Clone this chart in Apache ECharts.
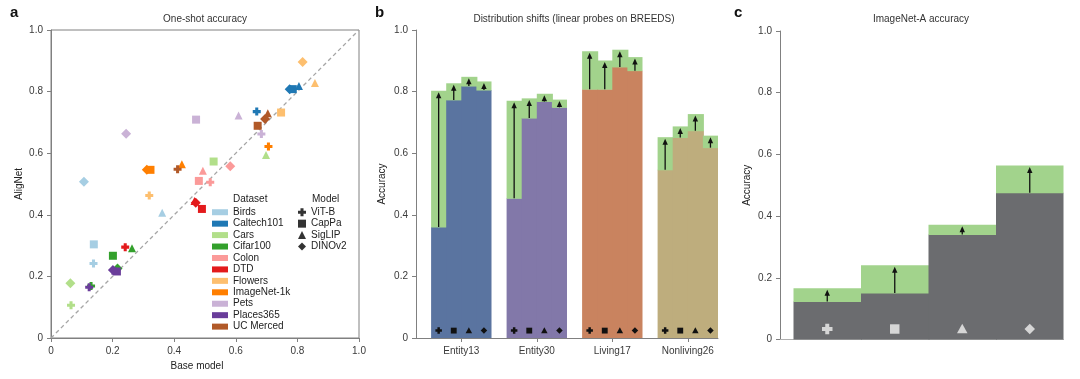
<!DOCTYPE html>
<html>
<head>
<meta charset="utf-8">
<script src="https://cdn.jsdelivr.net/npm/echarts@6/dist/echarts.min.js"></script>
<style>
html,body{margin:0;padding:0;background:#fff;}
#chart{width:1080px;height:379px;}
</style>
</head>
<body>
<div id="chart"></div>
<script>
// ---------- DATA ----------
const models = ['ViT-B', 'CapPa', 'SigLIP', 'DINOv2'];
const datasets = ['Birds', 'Caltech101', 'Cars', 'Cifar100', 'Colon', 'DTD', 'Flowers', 'ImageNet-1k', 'Pets', 'Places365', 'UC Merced'];
// one-shot accuracy, per dataset, model order: ViT-B, CapPa, SigLIP, DINOv2
const oneShotBase = [
  [0.138, 0.139, 0.361, 0.107],
  [0.668, 0.785, 0.805, 0.775],
  [0.065, 0.528, 0.698, 0.063],
  [0.130, 0.201, 0.263, 0.216],
  [0.517, 0.480, 0.493, 0.582],
  [0.241, 0.490, 0.466, 0.470],
  [0.319, 0.747, 0.857, 0.817],
  [0.706, 0.323, 0.425, 0.311],
  [0.683, 0.471, 0.609, 0.244],
  [0.124, 0.214, 0.208, 0.201],
  [0.411, 0.671, 0.704, 0.695]
];
const oneShotAligned = [
  [0.242, 0.304, 0.407, 0.507],
  [0.735, 0.808, 0.818, 0.808],
  [0.106, 0.573, 0.594, 0.178],
  [0.169, 0.267, 0.291, 0.226],
  [0.506, 0.510, 0.543, 0.558],
  [0.295, 0.419, 0.445, 0.439],
  [0.463, 0.732, 0.828, 0.896],
  [0.622, 0.546, 0.564, 0.546],
  [0.662, 0.709, 0.722, 0.663],
  [0.165, 0.216, 0.219, 0.221],
  [0.548, 0.689, 0.730, 0.711]
];
const identityLine = [[0, 0], [1, 1]];

const shiftCategories = ['Entity13', 'Entity30', 'Living17', 'Nonliving26'];
const shiftBase = [
  [0.360, 0.773, 0.818, 0.805],
  [0.454, 0.714, 0.768, 0.749],
  [0.808, 0.808, 0.880, 0.868],
  [0.546, 0.651, 0.673, 0.618]
];
const shiftAligned = [
  [0.803, 0.827, 0.848, 0.833],
  [0.770, 0.778, 0.793, 0.774],
  [0.931, 0.901, 0.936, 0.912],
  [0.652, 0.687, 0.727, 0.657]
];

const imagenetABase = [0.123, 0.151, 0.340, 0.476];
const imagenetAAligned = [0.166, 0.241, 0.372, 0.564];

// ---------- STYLE ----------
const FONT = "'Liberation Sans', Arial, Helvetica, sans-serif";
const AXIS_COLOR = '#808080';
const LABEL_COLOR = '#3a3a3a';
const datasetColors = ['#a6cee3', '#1f78b4', '#b2df8a', '#33a02c', '#fb9a99', '#e31a1c', '#fdbf6f', '#ff7f00', '#cab2d6', '#6a3d9a', '#b15928'];
const crossPath = 'path://M3.1,0H6.9V3.1H10V6.9H6.9V10H3.1V6.9H0V3.1H3.1Z';
const modelSymbols = [crossPath, 'rect', 'triangle', 'diamond'];
const modelSizes = [8, 8, 8, 10];
const shiftColors = ['#5a74a0', '#8278a9', '#c9835f', '#bead7d'];
const GREEN = '#a2d38c';
const GRAY_BAR = '#6b6c6f';

function tickFmt(v) { return v === 0 ? '0' : v.toFixed(1); }

function markerShape(type, cx, cy, s, color) {
  const h = s / 2;
  if (type === 0) {
    const t = s * 0.19;
    return { type: 'polygon', shape: { points: [
      [cx - t, cy - h], [cx + t, cy - h], [cx + t, cy - t], [cx + h, cy - t], [cx + h, cy + t], [cx + t, cy + t],
      [cx + t, cy + h], [cx - t, cy + h], [cx - t, cy + t], [cx - h, cy + t], [cx - h, cy - t], [cx - t, cy - t]] },
      style: { fill: color } };
  }
  if (type === 1) {
    return { type: 'rect', shape: { x: cx - h * 0.9, y: cy - h * 0.9, width: s * 0.9, height: s * 0.9 }, style: { fill: color } };
  }
  if (type === 2) {
    return { type: 'polygon', shape: { points: [[cx, cy - h], [cx + h, cy + h * 0.8], [cx - h, cy + h * 0.8]] }, style: { fill: color } };
  }
  return { type: 'polygon', shape: { points: [[cx, cy - h], [cx + h, cy], [cx, cy + h], [cx - h, cy]] }, style: { fill: color } };
}

function arrowShapes(x, yBase, yTop) {
  const tip = yTop + 1.5;
  const headLen = 6, headHalf = 2.7;
  const out = [];
  if (yBase - tip > headLen) {
    out.push({ type: 'line', shape: { x1: x, y1: yBase, x2: x, y2: tip + headLen - 1 }, style: { stroke: '#111', lineWidth: 1.3 } });
  }
  out.push({ type: 'polygon', shape: { points: [[x, tip], [x + headHalf, tip + headLen], [x - headHalf, tip + headLen]] }, style: { fill: '#111' } });
  return out;
}

function barRects(p0, pb, pa, baseColor, isLast) {
  const extra = isLast ? 0 : 1;
  return [
    { type: 'rect', shape: { x: p0[0], y: pb[1], width: pb[0] - p0[0] + extra, height: p0[1] - pb[1] }, style: { fill: baseColor } },
    { type: 'rect', shape: { x: p0[0], y: pa[1], width: pa[0] - p0[0] + extra, height: pb[1] - pa[1] + 0.5 }, style: { fill: GREEN } }
  ];
}

// ---------- SERIES ----------
const series = [];
series.push({
  type: 'line', xAxisIndex: 0, yAxisIndex: 0, data: identityLine, symbol: 'none', silent: true, z: 1,
  lineStyle: { color: '#a5a5a5', width: 1.3, type: [4, 3] }
});
datasets.forEach((name, d) => {
  series.push({
    type: 'scatter', name: name, xAxisIndex: 0, yAxisIndex: 0, z: 3,
    itemStyle: { color: datasetColors[d], opacity: 1 },
    data: models.map((m, i) => ({
      value: [oneShotBase[d][i], oneShotAligned[d][i]],
      symbol: modelSymbols[i], symbolSize: modelSizes[i]
    }))
  });
});
models.forEach((name, i) => {
  series.push({ type: 'scatter', name: name, xAxisIndex: 0, yAxisIndex: 0, data: [], symbol: modelSymbols[i], itemStyle: { color: '#000' } });
});

// panel b
const shiftData = [];
shiftCategories.forEach((c, ci) => models.forEach((m, mi) => shiftData.push([ci, mi, shiftBase[ci][mi], shiftAligned[ci][mi]])));
series.push({
  type: 'custom', xAxisIndex: 1, yAxisIndex: 1, data: shiftData, encode: { x: 0, y: 3 }, silent: true,
  renderItem: function (params, api) {
    const ci = api.value(0), mi = api.value(1), base = api.value(2), al = api.value(3);
    const x0 = ci - 0.4 + mi * 0.2, x1 = x0 + 0.2;
    const p0 = api.coord([x0, 0]), pb = api.coord([x1, base]), pa = api.coord([x1, al]);
    const cx = api.coord([x0 + 0.1, 0])[0];
    const cy = api.coord([0, 0.024])[1];
    const children = barRects(p0, pb, pa, shiftColors[ci], mi === 3).concat(arrowShapes(cx, pb[1], pa[1]));
    children.push(markerShape(mi, cx, cy, 6.5, '#111'));
    return { type: 'group', children: children };
  }
});

// panel c
const inaData = models.map((m, i) => [i, imagenetABase[i], imagenetAAligned[i]]);
series.push({
  type: 'custom', xAxisIndex: 2, yAxisIndex: 2, data: inaData, encode: { x: 0, y: 2 }, silent: true,
  renderItem: function (params, api) {
    const i = api.value(0), base = api.value(1), al = api.value(2);
    const p0 = api.coord([i - 0.5, 0]), pb = api.coord([i + 0.5, base]), pa = api.coord([i + 0.5, al]);
    const cx = api.coord([i, 0])[0];
    const cy = api.coord([0, 0.034])[1];
    const children = barRects(p0, pb, pa, GRAY_BAR, i === 3).concat(arrowShapes(cx, pb[1], pa[1]));
    children.push(markerShape(i, cx, cy, 10.5, '#d6d6d6'));
    return { type: 'group', children: children };
  }
});

// ---------- AXES ----------
function valueAxisY(grid, name, gap) {
  return {
    type: 'value', gridIndex: grid, min: 0, max: 1, interval: 0.2,
    axisLine: { show: true, onZero: false, lineStyle: { color: AXIS_COLOR, width: 1 } },
    axisTick: { show: true, length: 4, lineStyle: { color: AXIS_COLOR } },
    axisLabel: { formatter: tickFmt, color: LABEL_COLOR, fontSize: 10, margin: 8, fontFamily: FONT },
    splitLine: { show: false },
    name: name, nameLocation: 'middle', nameGap: gap,
    nameTextStyle: { color: '#222', fontSize: 10, fontFamily: FONT }
  };
}

const option = {
  animation: false,
  backgroundColor: '#fff',
  textStyle: { fontFamily: FONT },
  title: [
    { text: 'a', left: 10, top: 5, padding: 0, textStyle: { fontSize: 15, fontWeight: 'bold', color: '#111', fontFamily: FONT } },
    { text: 'b', left: 375, top: 5, padding: 0, textStyle: { fontSize: 15, fontWeight: 'bold', color: '#111', fontFamily: FONT } },
    { text: 'c', left: 734, top: 5, padding: 0, textStyle: { fontSize: 15, fontWeight: 'bold', color: '#111', fontFamily: FONT } },
    { text: 'One-shot accuracy', left: 205, top: 14, padding: 0, textAlign: 'center', textStyle: { fontSize: 10, fontWeight: 'normal', color: '#333', fontFamily: FONT } },
    { text: 'Distribution shifts (linear probes on BREEDS)', left: 574, top: 14, padding: 0, textAlign: 'center', textStyle: { fontSize: 10, fontWeight: 'normal', color: '#333', fontFamily: FONT } },
    { text: 'ImageNet-A accuracy', left: 921, top: 14, padding: 0, textAlign: 'center', textStyle: { fontSize: 10, fontWeight: 'normal', color: '#333', fontFamily: FONT } },
    { text: 'Dataset', left: 233, top: 193, padding: 0, textStyle: { fontSize: 10, fontWeight: 'normal', color: '#222', fontFamily: FONT, lineHeight: 12 } },
    { text: 'Model', left: 312, top: 193, padding: 0, textStyle: { fontSize: 10, fontWeight: 'normal', color: '#222', fontFamily: FONT, lineHeight: 12 } }
  ],
  legend: [
    {
      data: datasets.map(n => ({ name: n, icon: 'rect' })), orient: 'vertical', left: 212, top: 206.5, padding: 0,
      itemWidth: 16, itemHeight: 6, itemGap: 0, selectedMode: false,
      textStyle: { fontSize: 10, lineHeight: 11.44, color: '#222', fontFamily: FONT }
    },
    {
      data: models.map((n, i) => ({ name: n, icon: modelSymbols[i] })), orient: 'vertical', left: 298, top: 206.5, padding: 0,
      itemWidth: 8, itemHeight: 8, itemGap: 0, selectedMode: false,
      textStyle: { fontSize: 10, lineHeight: 11.44, color: '#222', fontFamily: FONT }
    }
  ],
  grid: [
    { left: 51, top: 30, width: 308, height: 308, show: true, borderColor: AXIS_COLOR, borderWidth: 1 },
    { left: 416, top: 30, width: 302, height: 308 },
    { left: 780, top: 31, width: 283.5, height: 308.5 }
  ],
  xAxis: [
    {
      type: 'value', gridIndex: 0, min: 0, max: 1, interval: 0.2,
      axisLine: { show: true, onZero: false, lineStyle: { color: AXIS_COLOR } },
      axisTick: { show: true, length: 4, lineStyle: { color: AXIS_COLOR } },
      axisLabel: { formatter: tickFmt, color: LABEL_COLOR, fontSize: 10, margin: 8, fontFamily: FONT },
      splitLine: { show: false },
      name: 'Base model', nameLocation: 'middle', nameGap: 23,
      nameTextStyle: { color: '#222', fontSize: 10, fontFamily: FONT, padding: [0, 16, 0, 0] }
    },
    {
      type: 'value', gridIndex: 1, min: -0.6, max: 3.4,
      axisLine: { show: true, onZero: false, lineStyle: { color: AXIS_COLOR } },
      axisTick: { show: true, length: 4, lineStyle: { color: AXIS_COLOR }, customValues: [0, 1, 2, 3] },
      axisLabel: { customValues: [0, 1, 2, 3], formatter: v => shiftCategories[Math.round(v)], color: LABEL_COLOR, fontSize: 10, margin: 8, fontFamily: FONT },
      splitLine: { show: false }
    },
    {
      type: 'value', gridIndex: 2, min: -0.7, max: 3.5,
      axisLine: { show: true, onZero: false, lineStyle: { color: '#b0b0b0' } },
      axisTick: { show: false }, axisLabel: { show: false }, splitLine: { show: false }
    }
  ],
  yAxis: [
    valueAxisY(0, 'AligNet', 27),
    valueAxisY(1, 'Accuracy', 29),
    valueAxisY(2, 'Accuracy', 28)
  ],
  series: series
};

const chart = echarts.init(document.getElementById('chart'), null, { renderer: 'canvas' });
chart.setOption(option);
</script>
</body>
</html>
